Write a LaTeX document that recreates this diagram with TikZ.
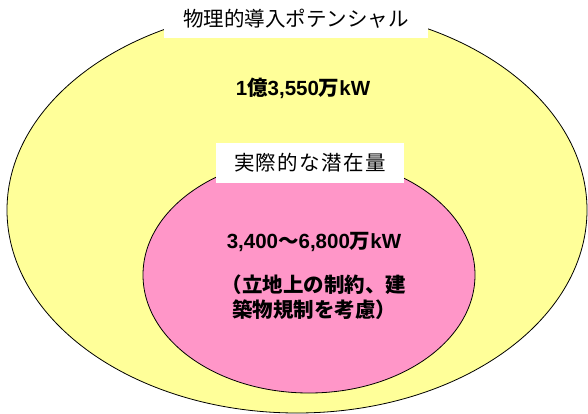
\documentclass[tikz,border=0pt]{standalone}
\usepackage{fontspec}
\setmainfont{Noto Sans CJK JP}
\newfontfamily\lat{Liberation Sans}
\definecolor{ylw}{HTML}{FFFF99}
\definecolor{pnk}{HTML}{FF96C8}
\newcommand{\gp}{\kern1.4pt}
\begin{document}
\begin{tikzpicture}[x=1pt,y=-1pt,
  outerell/.style={draw=black,line width=0.8pt,fill=ylw},
  innerell/.style={draw=black,line width=0.8pt,fill=pnk},
  labelbox/.style={fill=white,inner sep=0pt,font=\fontsize{20.5}{24}\selectfont},
  valtext/.style={font=\fontsize{20.5}{25}\selectfont\bfseries,align=center,inner sep=0pt}]
\useasboundingbox (0,0) rectangle (588,414);
\fill[white] (0,0) rectangle (588,414);
\draw[outerell] (297,210) ellipse [x radius=290, y radius=203];
\draw[innerell] (309,275) ellipse [x radius=166, y radius=118];
\node[labelbox,minimum width=264,minimum height=39] (lab1) at (296,19) {物理的導入ポテンシャル};
\node[valtext] (val1) at (303,88) {{\lat 1}億{\lat 3,550}万{\lat kW}};
\node[labelbox,minimum width=188,minimum height=40] (lab2) at (310,163) {実\gp 際\gp 的\gp な\gp 潜\gp 在\gp 量};
\node[valtext] (val2) at (314,242) {{\lat 3,400}～{\lat 6,800}万{\lat kW}};
\node[valtext] (val3) at (314,297) {（立地上の制約、建\\築物規制を考慮）};
\end{tikzpicture}
\end{document}
